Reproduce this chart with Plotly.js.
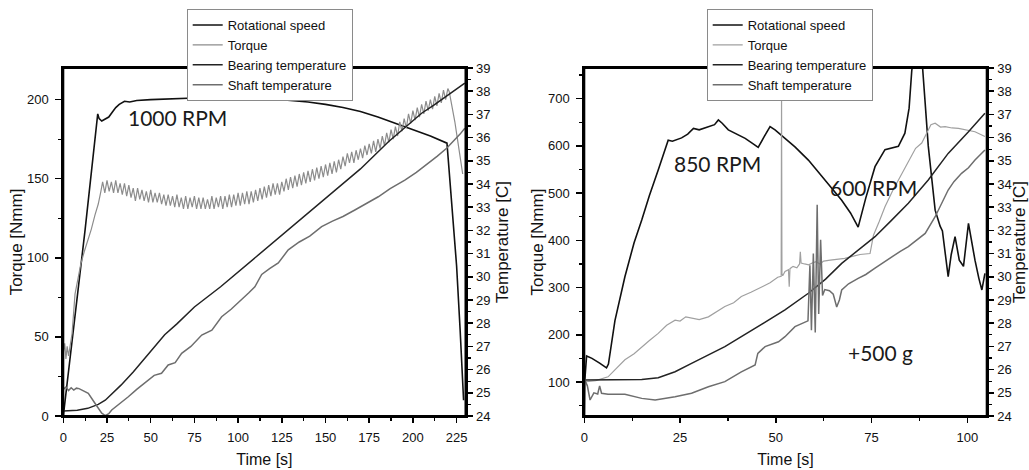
<!DOCTYPE html>
<html>
<head>
<meta charset="utf-8">
<script src="https://cdn.plot.ly/plotly-3.0.1.min.js"></script>
<style>html,body{margin:0;padding:0;background:#fff;}#chart{width:1029px;height:470px;}</style>
</head>
<body>
<div id="chart"></div>
<script>
// ---------- LEFT PANEL (1000 RPM) ----------
const leftSpeedT = [0, 5, 12.5, 19.7, 20.5, 22, 24, 26, 28, 30, 32, 35, 38, 42, 50, 60, 75, 90, 100, 110, 125, 140, 150, 160, 170, 180, 190, 200, 210, 219.5, 221, 223, 225, 227, 229];
const leftSpeedV = [0, 47, 118, 191, 188, 186.5, 187.5, 189, 192, 195, 197, 199, 198.5, 199.5, 200, 200.5, 201, 201.5, 201, 200.5, 200, 198.5, 197, 195, 192.5, 189, 185, 181, 177, 172.5, 150, 122, 95, 55, 10];

const leftTorqueT = [0, 0.8, 1.5, 2.2, 3, 3.8, 5, 6.7, 8.5, 10, 12, 14.3, 16, 18.1, 20, 21.5,
  22.5, 23.75, 25, 26.25, 27.5, 28.75, 30, 31.25, 32.5, 33.75, 35, 36.25, 37.5, 38.75, 40, 41.25,
  42.5, 43.75, 45, 46.25, 47.5, 48.75, 50, 51.25, 52.5, 53.75, 55, 56.25, 57.5, 58.75, 60, 61.25,
  62.5, 63.75, 65, 66.25, 67.5, 68.75, 70, 71.25, 72.5, 73.75, 75, 76.25, 77.5, 78.75, 80, 81.25,
  82.5, 83.75, 85, 86.25, 87.5, 88.75, 90, 91.25, 92.5, 93.75, 95, 96.25, 97.5, 98.75, 100, 101.25,
  102.5, 103.75, 105, 106.25, 107.5, 108.75, 110, 111.25, 112.5, 113.75, 115, 116.25, 117.5, 118.75, 120, 121.25,
  122.5, 123.75, 125, 126.25, 127.5, 128.75, 130, 131.25, 132.5, 133.75, 135, 136.25, 137.5, 138.75, 140, 141.25,
  142.5, 143.75, 145, 146.25, 147.5, 148.75, 150, 151.25, 152.5, 153.75, 155, 156.25, 157.5, 158.75, 160, 161.25,
  162.5, 163.75, 165, 166.25, 167.5, 168.75, 170, 171.25, 172.5, 173.75, 175, 176.25, 177.5, 178.75, 180, 181.25,
  182.5, 183.75, 185, 186.25, 187.5, 188.75, 190, 191.25, 192.5, 193.75, 195, 196.25, 197.5, 198.75, 200, 201.25,
  202.5, 203.75, 205, 206.25, 207.5, 208.75, 210, 211.25, 212.5, 213.75, 215, 216.25, 217.5, 218.75, 220,
  220.8, 222.5, 224, 225.5, 227, 228.5];
const leftTorqueV = [40, 46, 36, 44, 38, 45, 52, 77, 88, 96, 104, 112, 118, 127, 134, 142,
  148, 141, 149, 142, 148, 141, 149, 141, 147, 140, 147, 139, 146, 138, 144, 136,
  144, 137, 143, 136, 142, 135, 143, 135, 141, 135, 141, 134, 140, 133, 140, 133,
  139, 132, 140, 132, 138, 131, 139, 131, 138, 132, 139, 131, 138, 131, 138, 131,
  137, 131, 139, 131, 138, 132, 139, 131, 139, 132, 140, 132, 140, 133, 141, 133,
  141, 134, 142, 134, 142, 135, 143, 136, 144, 137, 145, 138, 146, 139, 147, 140,
  147, 140, 148, 142, 150, 143, 151, 144, 152, 145, 153, 146, 154, 147, 155, 148,
  156, 149, 157, 150, 158, 151, 159, 152, 160, 153, 161, 154, 162, 156, 164, 158,
  166, 160, 167, 160, 168, 162, 169, 163, 171, 165, 172, 166, 174, 167, 175, 169,
  177, 171, 179, 173, 181, 175, 183, 177, 186, 180, 188, 182, 191, 185, 193, 187,
  195, 189, 197, 191, 199, 193, 200, 194, 202, 196, 204, 198, 206, 200, 207,
  205, 196, 186, 175, 164, 153];

const leftBearingT = [0, 8, 14, 20, 24, 28, 33, 40, 45, 50, 58, 65, 75, 90, 100, 110, 120, 130, 148, 160, 170, 186, 195, 205, 212, 220, 229.7];
const leftBearingC = [24.22, 24.25, 24.33, 24.5, 24.68, 24.95, 25.33, 25.9, 26.35, 26.8, 27.5, 27.97, 28.7, 29.57, 30.2, 30.87, 31.5, 32.1, 33.24, 34.0, 34.65, 35.82, 36.4, 37.05, 37.4, 37.84, 38.35];

const leftShaftT = [0, 1.5, 3, 4.5, 6, 7.5, 9, 11, 14.3, 18.1, 22, 24, 26, 27.7, 32, 37.2, 42, 48.6, 52, 56.2, 60, 64, 67.7, 73, 79.2, 85, 90.6, 96, 102, 106, 109.6, 113.5, 118, 123, 128.7, 135, 141, 147.8, 154, 160, 166.8, 173, 180.2, 187, 195.4, 202, 208.8, 214, 219.3, 222, 224, 227, 229.7];
const leftShaftC = [25.15, 25.25, 25.1, 25.22, 25.12, 25.2, 25.18, 25.1, 24.98, 24.55, 24.12, 24.02, 24.1, 24.26, 24.5, 24.83, 25.15, 25.55, 25.75, 25.84, 26.2, 26.3, 26.7, 27.0, 27.49, 27.7, 28.28, 28.6, 29.0, 29.3, 29.57, 30.1, 30.35, 30.6, 31.16, 31.5, 31.75, 32.16, 32.4, 32.6, 32.88, 33.15, 33.45, 33.8, 34.17, 34.5, 34.89, 35.2, 35.54, 35.75, 35.95, 36.15, 36.4];

// ---------- RIGHT PANEL (850 / 600 RPM, +500 g) ----------
const rightSpeedT = [0, 0.1, 0.6, 2, 4, 5.8, 6.3, 8, 10.6, 13, 15, 17, 19.3, 21.9, 23, 25.4, 27, 28.5, 30, 32.4, 34, 35, 36, 37.6, 40, 42, 44, 45.4, 47, 48.5, 49.8, 52.4, 55, 58.5, 62, 65, 67.2, 69.5, 71.5, 73.5, 75.9, 78.5, 80, 82, 83.7, 84.8, 85.5, 86.3, 87, 88.1, 89, 89.8, 91.6, 92.9, 93.5, 94.2, 95, 95.8, 96.8, 97.9, 99, 100.3, 101, 102, 103, 103.8, 104.6];
const rightSpeedV = [28, 100, 155, 150, 140, 130, 138, 230, 323, 395, 443, 495, 549, 612, 610, 617, 625, 637, 634, 641, 645, 655, 648, 634, 625, 616, 605, 597, 620, 641, 634, 616, 598, 570, 535, 505, 485, 458, 428, 490, 556, 592, 595, 599, 627, 680, 760, 800, 800, 790, 690, 600, 464, 430, 420, 380, 323, 370, 408, 358, 345, 436, 400, 358, 320, 295, 330];

const rightTorqueT = [0, 3, 6.2, 8, 10.6, 13, 15, 17, 19.3, 21.5, 23.7, 25, 26.5, 28, 30, 32.4, 34.5, 36.7, 39, 41, 43.5, 46.3, 48.5, 50.5, 51.4, 51.5, 51.6, 51.8, 52.4, 53.3, 53.5, 53.7, 54.5, 55.5, 56.2, 56.4, 56.6, 57.5, 58.6, 59.5, 60.5, 61.5, 62.5, 64.2, 66, 68, 70, 72, 74.6, 75.5, 77, 78.5, 80.5, 82.9, 85, 86.5, 88.1, 89.5, 90.5, 91.6, 93, 94.2, 96, 97.7, 100, 102, 104.6];
const rightTorqueV = [100, 103, 111, 125, 147, 160, 175, 188, 203, 220, 231, 229, 238, 235, 232, 238, 248, 260, 268, 281, 290, 302, 310, 322, 324, 712, 330, 325, 334, 338, 302, 340, 345, 342, 350, 376, 352, 350, 348, 352, 355, 350, 356, 358, 360, 362, 366, 370, 372, 411, 440, 471, 505, 542, 575, 595, 606, 630, 645, 648, 640, 641, 638, 637, 633, 630, 620];

const rightBearingT = [0, 5, 10, 15, 19.3, 23.7, 28, 32.4, 36.7, 41, 45.4, 49.8, 52.4, 58.5, 63, 67.2, 71.5, 75.9, 80, 84.6, 89.8, 95, 100.3, 104.6];
const rightBearingC = [25.55, 25.55, 25.55, 25.57, 25.65, 25.91, 26.27, 26.63, 26.99, 27.42, 27.85, 28.28, 28.57, 29.29, 29.9, 30.58, 31.15, 31.73, 32.4, 33.17, 34.17, 35.32, 36.25, 37.05];

const rightShaftT = [0, 0.8, 1.5, 2.5, 3.5, 4, 4.5, 6.2, 10.6, 15, 18.5, 23.7, 28, 32.4, 36.7, 41, 44.6, 45.3, 47.2, 50.7, 52.4, 55, 58.4, 58.9, 59.3, 59.8, 60.3, 60.8, 61.2, 61.7, 62.2, 62.8, 64, 65, 65.9, 66.6, 67.2, 69, 71.5, 73.5, 75.9, 78, 80.3, 82.5, 84.6, 87, 89, 91.6, 93.5, 95, 96.5, 98.5, 100.3, 102, 104.6];
const rightShaftC = [25.62, 25.3, 24.69, 25.0, 24.95, 25.3, 24.98, 24.94, 24.94, 24.76, 24.69, 24.83, 24.98, 25.26, 25.48, 25.9, 26.2, 26.7, 26.99, 27.2, 27.42, 27.85, 28.1, 30.5, 27.7, 31.0, 27.6, 33.1, 28.4, 31.6, 29.2, 29.45, 29.4, 29.25, 28.7, 29.0, 29.43, 29.7, 29.93, 30.1, 30.37, 30.6, 30.87, 31.1, 31.3, 31.6, 31.87, 32.59, 33.2, 33.74, 34.1, 34.46, 34.7, 35.03, 35.47];

// ---------- labels ----------
const seriesNames = ['Rotational speed', 'Torque', 'Bearing temperature', 'Shaft temperature'];
const xTitle = 'Time [s]';
const yTitle = 'Torque [Nmm]';
const y2Title = 'Temperature [C]';
const notes = [
  {text: '1000 RPM', panel: 'left', t: 65.3, v: 189},
  {text: '850 RPM', panel: 'right', t: 34.9, v: 562},
  {text: '600 RPM', panel: 'right', t: 75.6, v: 512},
  {text: '+500 g', panel: 'right', t: 77.3, v: 162}
];

// ---------- styling ----------
const AX_FONT = 'Liberation Sans, Arial, Helvetica, sans-serif';
const colors = ['#111111', '#a0a0a0', '#232323', '#6e6e6e'];
const widths = [1.6, 1.2, 1.5, 1.5];

function tr(x, y, i, xa, ya, leg) {
  return {x: x, y: y, type: 'scatter', mode: 'lines', name: seriesNames[i],
    xaxis: xa, yaxis: ya, legend: leg, showlegend: true,
    line: {color: colors[i], width: widths[i]}};
}

const data = [
  tr(leftSpeedT, leftSpeedV, 0, 'x', 'y', 'legend'),
  tr(leftTorqueT, leftTorqueV, 1, 'x', 'y', 'legend'),
  tr(leftBearingT, leftBearingC, 2, 'x', 'y2', 'legend'),
  tr(leftShaftT, leftShaftC, 3, 'x', 'y2', 'legend'),
  tr(rightSpeedT, rightSpeedV, 0, 'x2', 'y3', 'legend2'),
  tr(rightTorqueT, rightTorqueV, 1, 'x2', 'y3', 'legend2'),
  tr(rightBearingT, rightBearingC, 2, 'x2', 'y4', 'legend2'),
  tr(rightShaftT, rightShaftC, 3, 'x2', 'y4', 'legend2')
];
data[1].line.color = '#8c8c8c';

const W = 1029, H = 470;
const yDom = [(H - 416) / H, (H - 68) / H];

function xAxis(dom, range, anchor) {
  return {domain: dom, range: range, anchor: anchor, showgrid: false, zeroline: false,
    showline: true, linecolor: '#000', linewidth: 2, mirror: true,
    ticks: 'outside', ticklen: 5, tickwidth: 1.5, tickcolor: '#000',
    tick0: 0, dtick: 25, ticklabelstandoff: 3,
    minor: {ticks: 'outside', dtick: 12.5, ticklen: 3, tickwidth: 1.2, tickcolor: '#000'},
    tickfont: {family: AX_FONT, size: 13, color: '#111'},
    title: {text: xTitle, font: {family: AX_FONT, size: 16, color: '#111'}, standoff: 10}};
}
function yAxis(range, anchor, dt, mdt, so) {
  return {domain: yDom, range: range, anchor: anchor, showgrid: false, zeroline: false,
    showline: true, linecolor: '#000', linewidth: 2, mirror: true,
    ticks: 'outside', ticklen: 6, tickwidth: 1.5, tickcolor: '#000',
    tick0: 0, dtick: dt, ticklabelstandoff: 4,
    minor: {ticks: 'outside', dtick: mdt, ticklen: 3, tickwidth: 1.2, tickcolor: '#000'},
    tickfont: {family: AX_FONT, size: 13, color: '#111'},
    title: {text: yTitle, font: {family: AX_FONT, size: 17, color: '#111'}, standoff: so}};
}
function tAxis(overlay, anchor) {
  return {overlaying: overlay, side: 'right', anchor: anchor, range: [24, 39],
    showgrid: false, zeroline: false, showline: true, linecolor: '#000', linewidth: 2,
    ticks: 'outside', ticklen: 5, tickwidth: 1.5, tickcolor: '#000', tick0: 24, dtick: 1,
    ticklabelstandoff: 1,
    minor: {ticks: 'outside', dtick: 0.5, ticklen: 3, tickwidth: 1.2, tickcolor: '#000'},
    tickfont: {family: AX_FONT, size: 13, color: '#111'},
    title: {text: y2Title, font: {family: AX_FONT, size: 17, color: '#111'}, standoff: 7}};
}

const legendStyle = (xpx) => ({x: xpx / W, y: (H - 9) / H, xanchor: 'left', yanchor: 'top',
  bgcolor: '#fff', bordercolor: '#8a8a8a', borderwidth: 1,
  font: {family: AX_FONT, size: 13, color: '#111'}, tracegroupgap: 0, itemwidth: 30});

const frame = (xr, yr) => ({type: 'rect', xref: xr + ' domain', yref: yr + ' domain',
  x0: 0, x1: 1, y0: 0, y1: 1, line: {color: '#000', width: 2}, layer: 'above'});

const layout = {
  width: W, height: H, margin: {l: 0, r: 0, t: 0, b: 0},
  paper_bgcolor: '#fff', plot_bgcolor: '#fff', showlegend: true,
  xaxis: xAxis([63.3 / W, 465.5 / W], [0, 230.1], 'y'),
  yaxis: yAxis([0, 220], 'x', 50, 25, 0),
  yaxis2: tAxis('y', 'x'),
  xaxis2: xAxis([584.3 / W, 986.7 / W], [0, 105.06], 'y3'),
  yaxis3: yAxis([28, 765], 'x2', 100, 50, 0),
  yaxis4: tAxis('y3', 'x2'),
  legend: legendStyle(186.7),
  legend2: legendStyle(706.7),
  shapes: [frame('x', 'y'), frame('x2', 'y3')],
  annotations: notes.map(n => ({text: n.text, x: n.t, y: n.v,
    xref: n.panel === 'left' ? 'x' : 'x2', yref: n.panel === 'left' ? 'y' : 'y3',
    showarrow: false, xanchor: 'center', yanchor: 'middle',
    font: {family: 'Lato, Open Sans, sans-serif', size: 21, color: '#1a1a1a'}}))
};

Plotly.newPlot('chart', data, layout, {staticPlot: true, displayModeBar: false});
</script>
</body>
</html>
